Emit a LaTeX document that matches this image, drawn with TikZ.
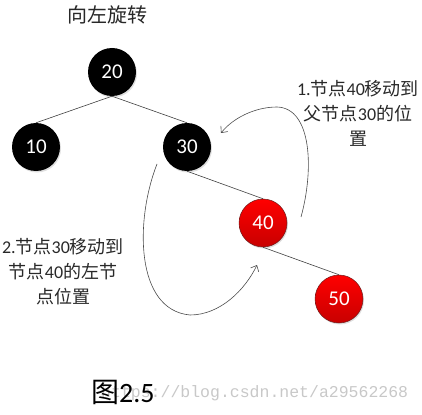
\documentclass[tikz,border=0pt]{standalone}
\usepackage{fontspec}
\setmainfont{Carlito}
\newfontfamily\cjk{Noto Sans CJK SC}
\newfontfamily\wmfont{Liberation Mono}
\usetikzlibrary{arrows.meta,shadows}
\newcommand\latn[1]{{\rmfamily #1}}
\definecolor{txtgray}{RGB}{40,40,40}
\definecolor{redtop}{RGB}{255,0,0}
\definecolor{redbot}{RGB}{200,0,0}
\definecolor{redrim}{RGB}{110,30,30}
\definecolor{wmgray}{RGB}{200,200,200}
\begin{document}
\begin{tikzpicture}[x=1pt,y=-1pt,
  nodecirc/.style={circle,minimum size=48pt,inner sep=0pt,font=\fontsize{21}{21}\selectfont,text=white},
  blacknode/.style={nodecirc,fill=black,drop shadow={opacity=0.25,shadow xshift=1pt,shadow yshift=-1.5pt}},
  rednode/.style={nodecirc,draw=redrim,line width=0.5pt,top color=redtop,bottom color=redbot,drop shadow={opacity=0.25,shadow xshift=1pt,shadow yshift=-1.5pt}},
  treeedge/.style={draw=black!75,line width=0.6pt},
  curvearrow/.style={draw=black!70,line width=0.6pt,-{Straight Barb[length=5pt,width=9pt]}},
  lbl/.style={font=\fontsize{18}{25}\selectfont\cjk,align=center,text=txtgray,inner sep=0pt}
]
\useasboundingbox (0,0) rectangle (422,414);

% title
\node[font=\fontsize{20}{20}\selectfont\cjk,text=txtgray,inner sep=0pt] (title) at (107,15) {向左旋转};

% tree nodes
\node[blacknode] (n20) at (112,72) {20};
\node[blacknode] (n10) at (36,147) {10};
\node[blacknode] (n30) at (187,147) {30};
\node[rednode] (n40) at (263,223) {40};
\node[rednode] (n50) at (339,299) {50};

\draw[treeedge] (n20.south) -- (n10.north);
\draw[treeedge] (n20.south) -- (n30.north);
\draw[treeedge] (n30.south) -- (n40.north);
\draw[treeedge] (n40.south) -- (n50.north);

% labels
\node[lbl] (lab1) at (358,113) {\latn{1.}节点\latn{40}移动到\\父节点\latn{30}的位\\置};
\node[lbl] (lab2) at (63,272) {\latn{2.}节点\latn{30}移动到\\节点\latn{40}的左节\\点位置};

% curved arrows
\coordinate (a1s) at (301,217);
\coordinate (a1e) at (221,133);
\draw[curvearrow] (a1s) .. controls (314,170) and (312,108) .. (277,107) .. controls (255,107) and (233,118) .. (a1e);

\coordinate (a2s) at (157,164);
\coordinate (a2e) at (257,265);
\draw[curvearrow] (a2s) .. controls (135,220) and (135,310) .. (190,315) .. controls (220,315) and (245,290) .. (a2e);

% watermark
\node[font=\fontsize{16.5}{16.5}\selectfont\wmfont,text=wmgray,anchor=west,inner sep=0pt] (wm) at (101,393) {https://blog.csdn.net/a29562268};

% figure caption
\node[anchor=west,inner sep=0pt,font=\fontsize{28}{28}\selectfont] (cap) at (91,392) {{\cjk 图}2.5};
\end{tikzpicture}
\end{document}
